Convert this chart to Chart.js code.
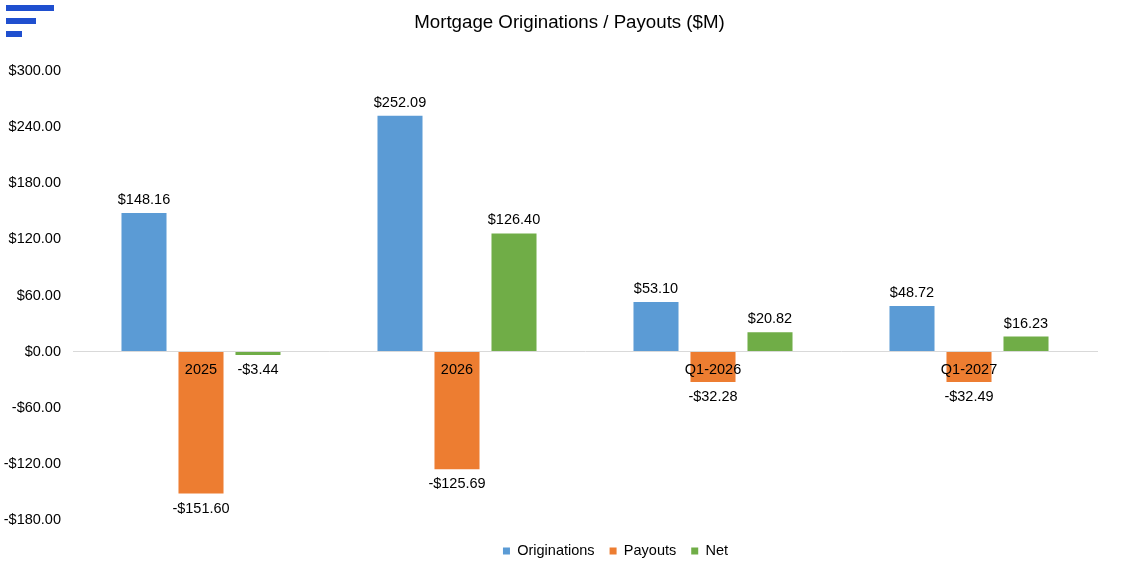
<!DOCTYPE html>
<html>
<head>
<meta charset="utf-8">
<script src="https://cdn.jsdelivr.net/npm/chart.js@4.4.0/dist/chart.umd.min.js"></script>
<style>
    html, body { margin: 0; padding: 0; background: #fff; }
    #wrap { position: relative; width: 1138px; height: 588px; }
    .menu-bar { position: absolute; left: 6px; height: 6px; background: #1f4fcf; }
</style>
</head>
<body>
<div id="wrap">
    <canvas id="mortgageChart" width="1138" height="588"></canvas>
    <div class="menu-bar" style="top:5px;width:48px;"></div>
    <div class="menu-bar" style="top:18px;width:30px;"></div>
    <div class="menu-bar" style="top:31px;width:16px;"></div>
</div>
<script>
const categories = ['2025', '2026', 'Q1-2026', 'Q1-2027'];
const originations = [148.16, 252.09, 53.10, 48.72];
const payouts = [-151.60, -125.69, -32.28, -32.49];
const net = [-3.44, 126.40, 20.82, 16.23];
const yTickValues = [-180, -120, -60, 0, 60, 120, 180, 240, 300];

const FONT = 'Liberation Sans, Arial, sans-serif';

function formatMoney(v) {
    const s = '$' + Math.abs(v).toFixed(2);
    return v < 0 ? '-' + s : s;
}

// value labels above / below each bar
const barValueLabels = {
    id: 'barValueLabels',
    afterDatasetsDraw(chart) {
        const ctx = chart.ctx;
        ctx.save();
        ctx.font = '14.5px ' + FONT;
        ctx.fillStyle = '#000';
        ctx.textAlign = 'center';
        ctx.textBaseline = 'middle';
        chart.data.datasets.forEach((ds, i) => {
            const meta = chart.getDatasetMeta(i);
            meta.data.forEach((bar, j) => {
                const v = ds.data[j];
                const y = v >= 0 ? bar.y - 13 : bar.y + 15;
                ctx.fillText(formatMoney(v), bar.x, y);
            });
        });
        ctx.restore();
    }
};

// title is centred on the whole canvas, legend sits right of centre
const shiftBlocks = {
    id: 'shiftBlocks',
    afterLayout(chart) {
        chart.titleBlock.left += 21;
        chart.titleBlock.right += 21;
        chart.legend.left += 67;
        chart.legend.right += 67;
    }
};

const ctx = document.getElementById('mortgageChart').getContext('2d');

new Chart(ctx, {
    type: 'bar',
    data: {
        labels: categories,
        datasets: [
            { label: 'Originations', data: originations, backgroundColor: '#5b9bd5' },
            { label: 'Payouts', data: payouts, backgroundColor: '#ed7d31' },
            { label: 'Net', data: net, backgroundColor: '#70ad47' }
        ]
    },
    options: {
        responsive: false,
        animation: false,
        categoryPercentage: 0.668,
        barPercentage: 0.79,
        layout: {
            padding: { top: 0, left: 0, right: 41, bottom: 19.7 }
        },
        scales: {
            x: {
                position: { y: 0 },
                grid: { display: false, drawTicks: false },
                border: { display: true, color: '#d9d9d9', width: 1, z: 1 },
                ticks: {
                    z: 2,
                    padding: 10,
                    color: '#000',
                    font: { family: FONT, size: 14.5 }
                },
                afterFit(scale) { scale.height = 0; }
            },
            y: {
                min: yTickValues[0],
                max: yTickValues[yTickValues.length - 1],
                grid: { display: false, drawTicks: false },
                border: { display: false },
                ticks: {
                    padding: 12,
                    color: '#000',
                    font: { family: FONT, size: 14.5 },
                    callback: (v) => formatMoney(v)
                },
                afterBuildTicks(scale) {
                    scale.ticks = yTickValues.map(v => ({ value: v }));
                },
                afterFit(scale) { scale.width = 73; }
            }
        },
        plugins: {
            title: {
                display: true,
                text: 'Mortgage Originations / Payouts ($M)',
                color: '#000',
                font: { family: FONT, size: 18.7, weight: 'normal' },
                padding: { top: 11.5, bottom: 37.1 }
            },
            legend: {
                position: 'bottom',
                title: {
                    display: true,
                    text: ' ',
                    font: { size: 1 },
                    padding: { top: 7.5, bottom: 0 }
                },
                labels: {
                    boxWidth: 7,
                    boxHeight: 7,
                    padding: 15,
                    color: '#000',
                    font: { family: FONT, size: 14.5 }
                }
            },
            tooltip: { enabled: false }
        }
    },
    plugins: [barValueLabels, shiftBlocks]
});
</script>
</body>
</html>
